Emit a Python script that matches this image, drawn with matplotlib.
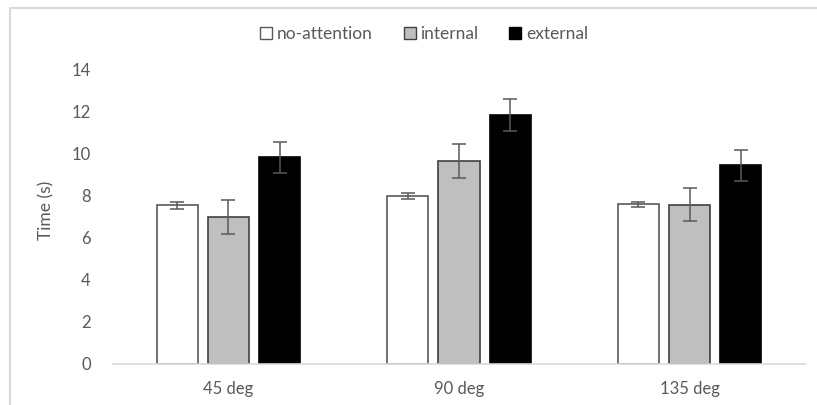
import matplotlib.pyplot as plt
import numpy as np
from matplotlib.lines import Line2D

categories = ["45 deg", "90 deg", "135 deg"]
series = ["no-attention", "internal", "external"]
values = {
    "no-attention": [7.55, 8.0, 7.6],
    "internal": [7.02, 9.66, 7.58],
    "external": [9.84, 11.87, 9.46],
}
errors = {
    "no-attention": [0.16, 0.13, 0.13],
    "internal": [0.81, 0.81, 0.78],
    "external": [0.74, 0.76, 0.74],
}
fills = {"no-attention": "#ffffff", "internal": "#bfbfbf", "external": "#000000"}
edges = {"no-attention": "#595959", "internal": "#404040", "external": "#000000"}

plt.rcParams["font.family"] = ["Lato", "DejaVu Sans"]
text_color = "#595959"

fig = plt.figure(figsize=(8.17, 4.05), dpi=100)
ax = fig.add_axes([113 / 817, 1 - 364 / 405, (805 - 113) / 817, (364 - 70) / 405 * 14.6 / 14])

x = np.arange(len(categories))
width = 0.178
step = 0.222
for i, name in enumerate(series):
    ax.bar(
        x + (i - 1) * step,
        values[name],
        width,
        color=fills[name],
        edgecolor=edges[name],
        linewidth=1.2,
        yerr=errors[name],
        error_kw=dict(ecolor="#595959", elinewidth=1.1, capsize=5, capthick=1.1),
        label=name,
        zorder=2,
    )

ax.set_xlim(-0.5, 2.5)
ax.set_ylim(0, 14.6)
ax.set_yticks(np.arange(0, 15, 2))
ax.set_xticks(x)
ax.set_xticklabels(categories)
ax.tick_params(axis="both", length=0, labelsize=12, colors=text_color)
ax.tick_params(axis="y", pad=16)
ax.tick_params(axis="x", pad=12)
for side in ["top", "right", "left"]:
    ax.spines[side].set_visible(False)
ax.spines["bottom"].set_color("#d9d9d9")
ax.spines["bottom"].set_linewidth(1.2)
ax.set_ylabel("Time (s)", fontsize=12.5, color=text_color, labelpad=12)

handles = [
    Line2D([], [], marker="s", linestyle="none", markersize=9,
           markerfacecolor=fills[n], markeredgecolor=edges[n], markeredgewidth=1.0)
    for n in series
]
fig.legend(
    handles, series, loc="center", bbox_to_anchor=(423 / 817, 1 - 34 / 405),
    ncol=3, frameon=False, fontsize=12.5, handletextpad=0.15, columnspacing=1.7,
    labelcolor=text_color, handlelength=0.9,
)

# chart area border (cropped on right/bottom)
fig.add_artist(Line2D([10 / 817, 1], [1 - 7.5 / 405, 1 - 7.5 / 405], color="#d9d9d9", linewidth=1.5))
fig.add_artist(Line2D([10 / 817, 10 / 817], [0, 1 - 7.5 / 405], color="#d9d9d9", linewidth=1.5))

fig.savefig("out.png", dpi=100)
